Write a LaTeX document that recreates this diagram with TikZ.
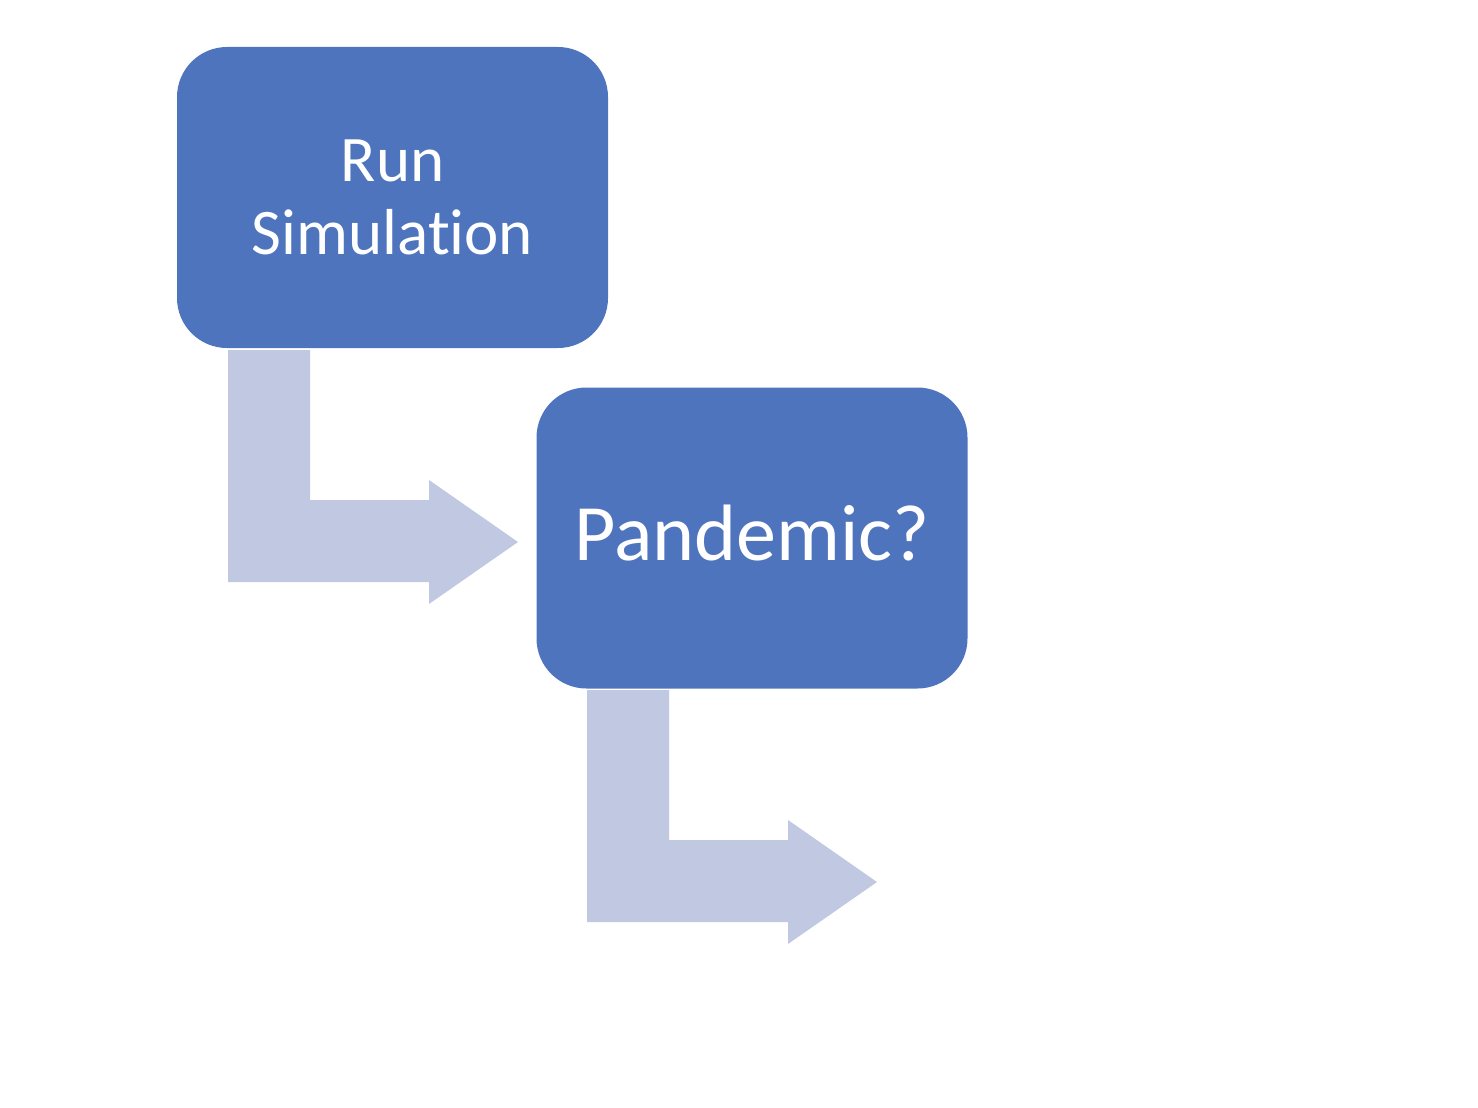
\documentclass[tikz,border=0pt]{standalone}
\usepackage{fontspec}
\setmainfont{Carlito}[Ligatures={NoCommon}]
\definecolor{boxblue}{HTML}{4F74BE}
\definecolor{arrowblue}{HTML}{C1C9E2}
\begin{document}
\begin{tikzpicture}[x=1pt,y=-1pt,
  stepbox/.style={fill=boxblue, draw=none, rounded corners=50pt, minimum width=431pt, minimum height=301pt, inner sep=0pt, text=white, align=center},
  bentarrow/.style={fill=arrowblue, draw=none}]
\useasboundingbox (0,0) rectangle (1478,1108);
\node[stepbox, font=\fontsize{65}{73}\selectfont] (run) at (392.5,197.5) {Run\\Simulation};
\node[stepbox, font=\fontsize{80}{90}\selectfont, text depth=0pt] (pan) at (752,538) {};
\node[text=white, font=\fontsize{80}{90}\selectfont, inner sep=0pt] (pantext) at (752,533) {Pandemic?};
\fill[bentarrow] (228,350) -- (310,350) -- (310,500) -- (429,500) -- (429,480) -- (518,542) -- (429,604) -- (429,582) -- (228,582) -- cycle;
\fill[bentarrow] (587,690) -- (669,690) -- (669,840) -- (788,840) -- (788,820) -- (877,882) -- (788,944) -- (788,922) -- (587,922) -- cycle;
\end{tikzpicture}
\end{document}
